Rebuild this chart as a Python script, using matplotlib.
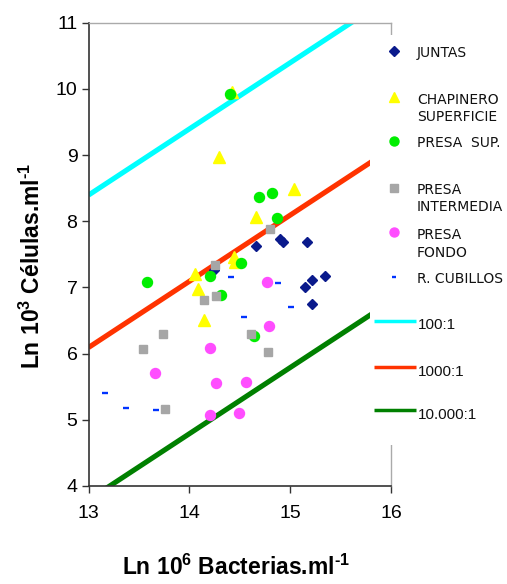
import matplotlib
matplotlib.use("Agg")
import matplotlib.pyplot as plt
import numpy as np

plt.rcParams["mathtext.fontset"] = "custom"
plt.rcParams["mathtext.rm"] = "Liberation Sans:bold"
plt.rcParams["mathtext.bf"] = "Liberation Sans:bold"
plt.rcParams["mathtext.it"] = "Liberation Sans:bold"

# ---- data: Ln 10^6 bacteria/ml (x) vs Ln 10^3 cells/ml (y) ----
juntas_x = [14.66, 14.90, 14.93, 15.17, 14.24, 15.22, 15.35, 15.15, 15.22]
juntas_y = [7.62, 7.73, 7.68, 7.69, 7.26, 7.12, 7.17, 7.00, 6.75]

chapinero_x = [14.42, 14.29, 15.04, 14.66, 14.44, 14.45, 14.06, 14.09, 14.15]
chapinero_y = [9.96, 8.97, 8.48, 8.06, 7.46, 7.39, 7.21, 6.98, 6.51]

presa_sup_x = [14.40, 14.69, 14.82, 14.87, 14.51, 14.20, 13.58, 14.31, 14.64]
presa_sup_y = [9.93, 8.37, 8.42, 8.05, 7.37, 7.18, 7.08, 6.88, 6.26]

presa_int_x = [14.80, 14.25, 14.15, 14.26, 13.74, 13.54, 14.61, 14.78, 13.76]
presa_int_y = [7.89, 7.34, 6.81, 6.87, 6.29, 6.07, 6.29, 6.02, 5.17]

presa_fondo_x = [14.77, 14.79, 14.20, 13.66, 14.26, 14.56, 14.20, 14.49]
presa_fondo_y = [7.08, 6.41, 6.09, 5.70, 5.55, 5.57, 5.08, 5.10]

cubillos_x = [14.41, 14.88, 15.01, 14.54, 13.16, 13.37, 13.67]
cubillos_y = [7.16, 7.06, 6.71, 6.56, 5.40, 5.18, 5.15]

series_labels = ["JUNTAS", "CHAPINERO\nSUPERFICIE", "PRESA  SUP.",
                 "PRESA\nINTERMEDIA", "PRESA\nFONDO", "R. CUBILLOS"]

# bacteria : cell ratio reference lines
ratios = [100, 1000, 10000]
ratio_labels = ["100:1", "1000:1", "10.000:1"]
ratio_colors = ["#00FFFF", "#FF3300", "#008000"]

x_ticks = [13, 14, 15, 16]
y_ticks = [4, 5, 6, 7, 8, 9, 10, 11]

styles = [
    dict(marker="D", ms=5.6, color="#0A1A8C", mec="#0A1A8C", ls="none"),
    dict(marker="^", ms=8.3, color="#FFFF00", mec="#FFFF00", ls="none"),
    dict(marker="o", ms=7.2, color="#00EE00", mec="#00EE00", ls="none"),
    dict(marker="s", ms=6.2, color="#A6A6A6", mec="#A6A6A6", ls="none"),
    dict(marker="o", ms=7.2, color="#FF4DFF", mec="#FF4DFF", ls="none"),
    dict(marker="_", ms=3.8, color="#0033FF", mec="#0033FF", mew=1.7, ls="none"),
]
series_x = [juntas_x, chapinero_x, presa_sup_x, presa_int_x, presa_fondo_x, cubillos_x]
series_y = [juntas_y, chapinero_y, presa_sup_y, presa_int_y, presa_fondo_y, cubillos_y]

W, H = 507, 584
fig = plt.figure(figsize=(W / 100, H / 100), dpi=100)
ax = fig.add_axes([88.5 / W, 1 - 486 / H, (391 - 88.5) / W, (486 - 22.7) / H])

xs = np.array([13.0, 16.0])
for r, c in zip(ratios, ratio_colors):
    ax.plot(xs, xs - np.log(r), color=c, lw=3.7, solid_capstyle="butt", zorder=2)

for sx, sy, st in zip(series_x, series_y, styles):
    ax.plot(sx, sy, zorder=3, **st)

ax.set_xlim(13, 16)
ax.set_ylim(4, 11)
ax.set_xticks(x_ticks)
ax.set_yticks(y_ticks)
for lab in ax.get_xticklabels() + ax.get_yticklabels():
    lab.set_fontfamily("Liberation Sans")
    lab.set_fontsize(14)
ax.tick_params(axis="x", direction="out", length=5, width=1, color="#333333", pad=9)
ax.tick_params(axis="y", direction="out", length=5, width=1, color="#333333", pad=3)
for s in ("left", "bottom"):
    ax.spines[s].set_color("#333333")
    ax.spines[s].set_linewidth(1.2)
for s in ("top", "right"):
    ax.spines[s].set_color("#AAAAAA")
    ax.spines[s].set_linewidth(1.0)

fig.text(236 / W, 1 - 567 / H, r"Ln 10$^{\mathbf{6}}$ Bacterias.ml$^{\mathbf{‐1}}$",
         ha="center", va="center", fontsize=16.5, fontweight="bold",
         fontfamily="Liberation Sans")
fig.text(32 / W, 1 - 266 / H, r"Ln 10$^{\mathbf{3}}$ Células.ml$^{\mathbf{‐1}}$",
         ha="center", va="center", rotation=90, fontsize=16.5, fontweight="bold",
         fontfamily="Liberation Sans")

# ---- legend panel (white box over the right side of the plot) ----
lax = fig.add_axes([370 / W, 1 - 445 / H, (W - 370) / W, (445 - 35) / H])
lax.set_zorder(5)
lax.set_xlim(370, W)
lax.set_ylim(445, 35)
lax.set_xticks([])
lax.set_yticks([])
for s in lax.spines.values():
    s.set_visible(False)
lax.patch.set_facecolor("white")

key_y = [50.7, 96.7, 140.5, 187.5, 232, 276.7]
text_y = [51.5, 98.2, 141.5, 188.3, 234, 277.3]
line_gap = 17.5
for st, lab, ky, ty in zip(styles, series_labels, key_y, text_y):
    kst = dict(st)
    kst["ms"] = st["ms"] * 0.9
    lax.plot([394], [ky], **kst)
    for i, part in enumerate(lab.split("\n")):
        lax.text(417, ty + i * line_gap + 5.3, part, ha="left", va="baseline",
                 fontsize=10, fontfamily="DejaVu Sans", color="#111111")

ratio_line_y = [320.7, 366.7, 410]
ratio_text_y = [323.3, 370, 413.3]
for c, lab, ly, ty in zip(ratio_colors, ratio_labels, ratio_line_y, ratio_text_y):
    lax.plot([374, 416], [ly, ly], color=c, lw=2.5, solid_capstyle="butt")
    lax.text(418, ty + 5.5, lab, ha="left", va="baseline", fontsize=11,
             fontfamily="Liberation Sans", color="#111111")

fig.savefig("out.png", dpi=100)
